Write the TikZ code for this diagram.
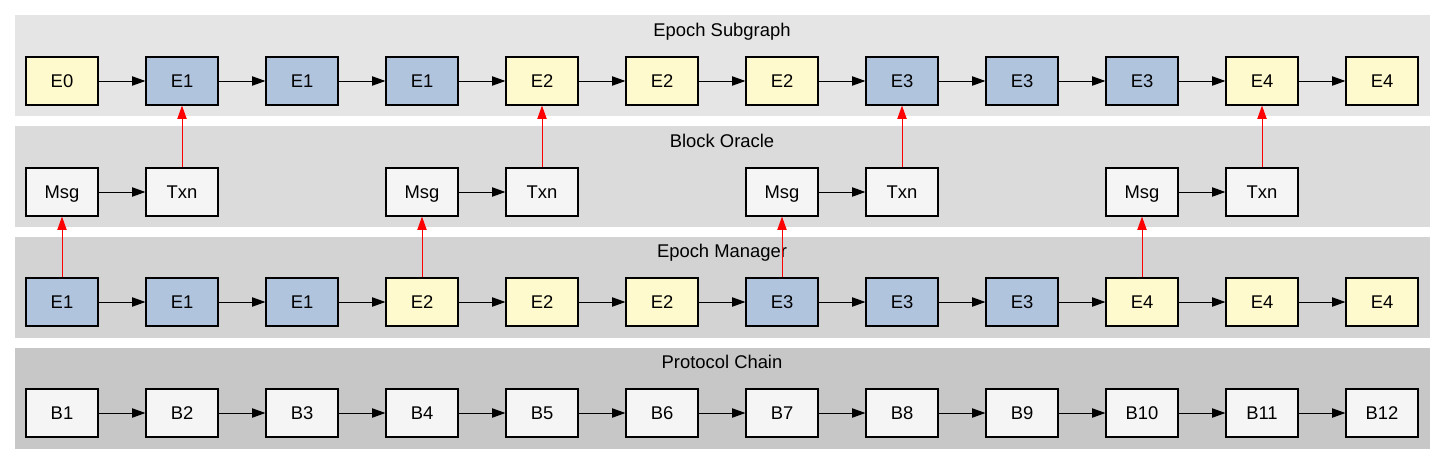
\documentclass[tikz,border=0pt]{standalone}
\usepackage{fontspec}
\setmainfont{Liberation Sans}
\usetikzlibrary{arrows.meta}
\definecolor{steel}{HTML}{B0C4DE}
\definecolor{lemon}{HTML}{FFFACD}
\definecolor{smoke}{HTML}{F5F5F5}
\definecolor{clA}{HTML}{E5E5E5}
\definecolor{clB}{HTML}{DBDBDB}
\definecolor{clC}{HTML}{D3D3D3}
\definecolor{clD}{HTML}{C7C7C7}
\tikzset{
  box/.style={draw=black, line width=0.9pt, minimum width=54pt, minimum height=36pt, inner sep=0pt, text height=9.9pt, text depth=0pt, font=\fontsize{13.8pt}{16pt}\selectfont},
  bluebox/.style={box, fill=steel},
  yellowbox/.style={box, fill=lemon},
  greybox/.style={box, fill=smoke},
  arr/.style={-{Triangle[length=10pt,width=7pt]}, line width=0.75pt},
  redarr/.style={arr, draw=red, -{Triangle[length=10pt,width=7pt,fill=red]}},
  title/.style={inner sep=0pt, text height=9.9pt, text depth=0pt, font=\fontsize{13.8pt}{16pt}\selectfont}
}
\begin{document}
\begin{tikzpicture}[x=0.75pt,y=-0.75pt]
\useasboundingbox (0,0) rectangle (1445,464);
\fill[clA] (15,15) rectangle (1430,116);
\fill[clB] (15,126) rectangle (1430,227);
\fill[clC] (15,237) rectangle (1430,338);
\fill[clD] (15,348) rectangle (1430,449);
\node[title] (tS) at (722,30) {Epoch Subgraph};
\node[title] (tO) at (722,141) {Block Oracle};
\node[title] (tM) at (722,251) {Epoch Manager};
\node[title] (tP) at (722,362) {Protocol Chain};
% epoch subgraph
\node[yellowbox] (s0) at (62,81) {E0};
\node[bluebox] (s1) at (182,81) {E1};
\node[bluebox] (s2) at (302,81) {E1};
\node[bluebox] (s3) at (422,81) {E1};
\node[yellowbox] (s4) at (542,81) {E2};
\node[yellowbox] (s5) at (662,81) {E2};
\node[yellowbox] (s6) at (782,81) {E2};
\node[bluebox] (s7) at (902,81) {E3};
\node[bluebox] (s8) at (1022,81) {E3};
\node[bluebox] (s9) at (1142,81) {E3};
\node[yellowbox] (s10) at (1262,81) {E4};
\node[yellowbox] (s11) at (1382,81) {E4};
% block oracle
\node[greybox] (m1) at (62,192) {Msg};
\node[greybox] (t1) at (182,192) {Txn};
\node[greybox] (m2) at (422,192) {Msg};
\node[greybox] (t2) at (542,192) {Txn};
\node[greybox] (m3) at (782,192) {Msg};
\node[greybox] (t3) at (902,192) {Txn};
\node[greybox] (m4) at (1142,192) {Msg};
\node[greybox] (t4) at (1262,192) {Txn};
% epoch manager
\node[bluebox] (e0) at (62,302) {E1};
\node[bluebox] (e1) at (182,302) {E1};
\node[bluebox] (e2) at (302,302) {E1};
\node[yellowbox] (e3) at (422,302) {E2};
\node[yellowbox] (e4) at (542,302) {E2};
\node[yellowbox] (e5) at (662,302) {E2};
\node[bluebox] (e6) at (782,302) {E3};
\node[bluebox] (e7) at (902,302) {E3};
\node[bluebox] (e8) at (1022,302) {E3};
\node[yellowbox] (e9) at (1142,302) {E4};
\node[yellowbox] (e10) at (1262,302) {E4};
\node[yellowbox] (e11) at (1382,302) {E4};
% protocol chain
\node[greybox] (b1) at (62,413) {B1};
\node[greybox] (b2) at (182,413) {B2};
\node[greybox] (b3) at (302,413) {B3};
\node[greybox] (b4) at (422,413) {B4};
\node[greybox] (b5) at (542,413) {B5};
\node[greybox] (b6) at (662,413) {B6};
\node[greybox] (b7) at (782,413) {B7};
\node[greybox] (b8) at (902,413) {B8};
\node[greybox] (b9) at (1022,413) {B9};
\node[greybox] (b10) at (1142,413) {B10};
\node[greybox] (b11) at (1262,413) {B11};
\node[greybox] (b12) at (1382,413) {B12};
\draw[arr] (s0) -- (s1);
\draw[arr] (s1) -- (s2);
\draw[arr] (s2) -- (s3);
\draw[arr] (s3) -- (s4);
\draw[arr] (s4) -- (s5);
\draw[arr] (s5) -- (s6);
\draw[arr] (s6) -- (s7);
\draw[arr] (s7) -- (s8);
\draw[arr] (s8) -- (s9);
\draw[arr] (s9) -- (s10);
\draw[arr] (s10) -- (s11);
\draw[arr] (m1) -- (t1);
\draw[arr] (m2) -- (t2);
\draw[arr] (m3) -- (t3);
\draw[arr] (m4) -- (t4);
\draw[arr] (e0) -- (e1);
\draw[arr] (e1) -- (e2);
\draw[arr] (e2) -- (e3);
\draw[arr] (e3) -- (e4);
\draw[arr] (e4) -- (e5);
\draw[arr] (e5) -- (e6);
\draw[arr] (e6) -- (e7);
\draw[arr] (e7) -- (e8);
\draw[arr] (e8) -- (e9);
\draw[arr] (e9) -- (e10);
\draw[arr] (e10) -- (e11);
\draw[arr] (b1) -- (b2);
\draw[arr] (b2) -- (b3);
\draw[arr] (b3) -- (b4);
\draw[arr] (b4) -- (b5);
\draw[arr] (b5) -- (b6);
\draw[arr] (b6) -- (b7);
\draw[arr] (b7) -- (b8);
\draw[arr] (b8) -- (b9);
\draw[arr] (b9) -- (b10);
\draw[arr] (b10) -- (b11);
\draw[arr] (b11) -- (b12);
\draw[redarr] (e0) -- (m1);
\draw[redarr] (t1) -- (s1);
\draw[redarr] (e3) -- (m2);
\draw[redarr] (t2) -- (s4);
\draw[redarr] (e6) -- (m3);
\draw[redarr] (t3) -- (s7);
\draw[redarr] (e9) -- (m4);
\draw[redarr] (t4) -- (s10);
\end{tikzpicture}
\end{document}
